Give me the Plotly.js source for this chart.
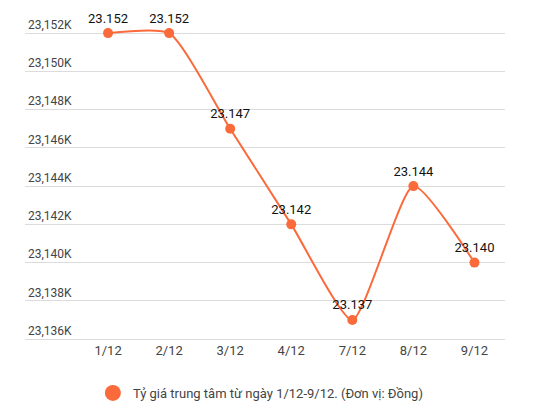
<!DOCTYPE html>
<html>
<head>
<meta charset="utf-8">
<script src="https://cdn.plot.ly/plotly-3.0.1.min.js"></script>
<style>
  html, body { margin: 0; padding: 0; background: #fff; }
  #chart { width: 540px; height: 410px; }
</style>
</head>
<body>
<div id="chart"></div>
<script>
// Ngày và tỷ giá trung tâm (đồng)
const days = ['1/12', '2/12', '3/12', '4/12', '7/12', '8/12', '9/12'];
const rates = [23152, 23152, 23147, 23142, 23137, 23144, 23140];
const rateLabels = ['23.152', '23.152', '23.147', '23.142', '23.137', '23.144', '23.140'];

const yTickVals = [23136, 23138, 23140, 23142, 23144, 23146, 23148, 23150, 23152];
const yTickText = ['23,136K', '23,138K', '23,140K', '23,142K', '23,144K', '23,146K', '23,148K', '23,150K', '23,152K'];

const seriesName = 'Tỷ giá trung tâm từ ngày 1/12-9/12. (Đơn vị: Đồng)';
const orange = '#fa6a3a';

const data = [
  {
    x: days,
    y: rates,
    mode: 'lines+markers+text',
    text: rateLabels,
    textposition: 'top center',
    textfont: { family: 'Roboto, Arial, sans-serif', size: 13, color: '#111' },
    line: { color: orange, width: 2, shape: 'spline', smoothing: 0.55 },
    marker: { color: orange, size: 10 },
    cliponaxis: false,
    showlegend: false,
    hoverinfo: 'x+y'
  },
  {
    // chỉ dùng cho chú thích
    x: [null],
    y: [null],
    mode: 'markers',
    name: seriesName,
    marker: { color: orange, size: 16 },
    showlegend: true
  }
];

const layout = {
  width: 540,
  height: 410,
  paper_bgcolor: '#fff',
  plot_bgcolor: '#fff',
  margin: { l: 25, r: 35, t: 14, b: 69 },
  font: { family: 'Roboto, Arial, sans-serif', size: 12, color: '#444' },
  xaxis: {
    type: 'category',
    range: [-1.36, 6.5],
    showgrid: false,
    zeroline: false,
    showline: false,
    ticks: '',
    tickfont: { size: 13, color: '#444' },
    fixedrange: true
  },
  yaxis: {
    range: [23135.9, 23153],
    tickvals: yTickVals,
    ticktext: yTickText,
    ticklabelposition: 'inside top',
    tickfont: { size: 12, color: '#444' },
    showgrid: true,
    gridcolor: '#dcdcdc',
    gridwidth: 1,
    zeroline: false,
    showline: false,
    ticks: '',
    fixedrange: true
  },
  showlegend: true,
  legend: {
    orientation: 'h',
    xref: 'container',
    yref: 'container',
    x: 0.172,
    xanchor: 'left',
    y: 0.0415,
    yanchor: 'middle',
    font: { size: 13, color: '#444' },
    bgcolor: 'rgba(0,0,0,0)'
  }
};

Plotly.newPlot('chart', data, layout, { displayModeBar: false, staticPlot: true });
</script>
</body>
</html>
